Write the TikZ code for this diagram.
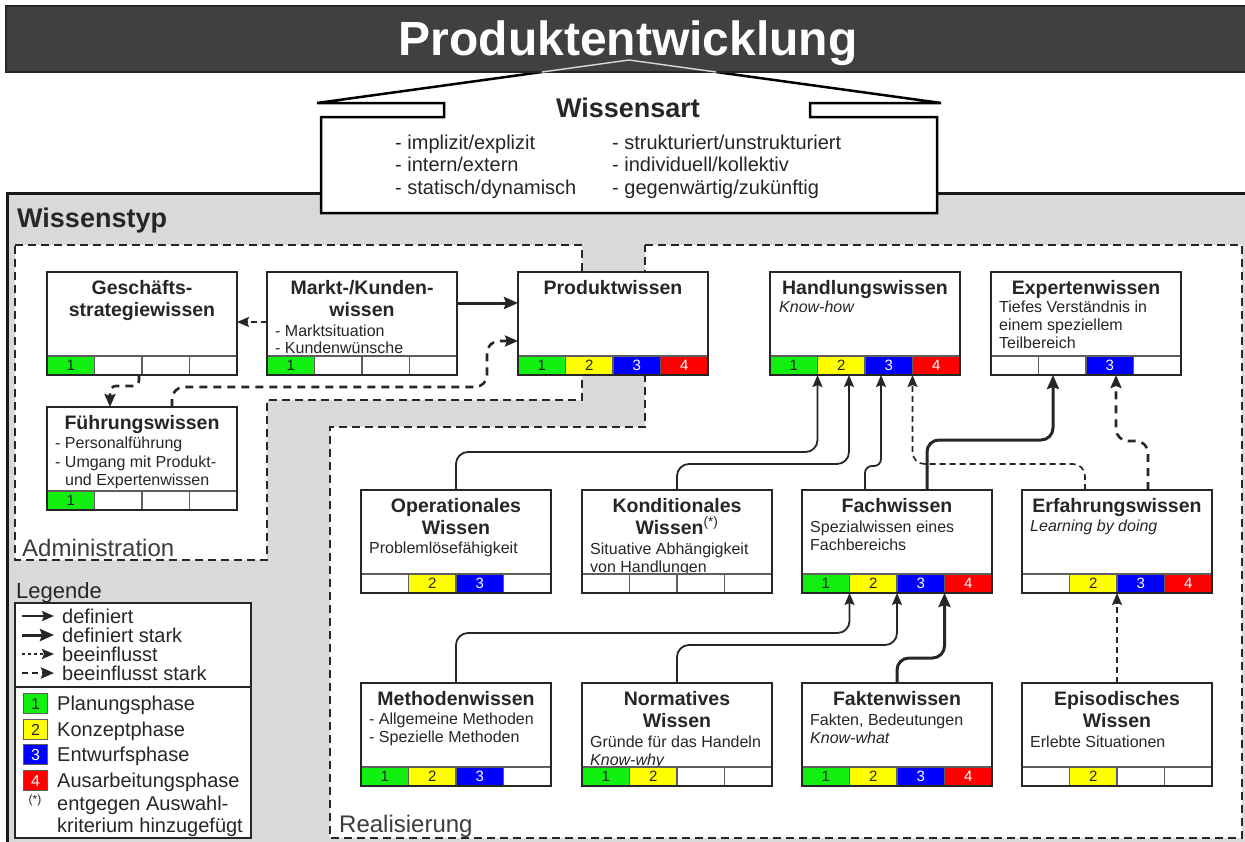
\documentclass[tikz,border=0pt]{standalone}
\usepackage{fontspec}
\setmainfont{Liberation Sans}
\usetikzlibrary{arrows.meta,calc}

\definecolor{ink}{HTML}{262626}
\definecolor{barfill}{HTML}{404040}
\definecolor{panel}{HTML}{D8DAD9}
\definecolor{cellline}{HTML}{5E5E5E}
\definecolor{phgreen}{HTML}{12F012}
\definecolor{phyellow}{HTML}{FFFF00}
\definecolor{phblue}{HTML}{0000FF}
\definecolor{phred}{HTML}{FF0000}

% phase strip below a knowledge box: four cells, 0 = empty
\newcommand\kstrip[5]{%
  \node[cellbox,ph#2] (#1-c1) at ($(#1.south west)+(0,0)$) {\ifnum#2>0 #2\fi};
  \node[cellbox,ph#3] (#1-c2) at ($(#1.south west)+(47.5,0)$) {\ifnum#3>0 #3\fi};
  \node[cellbox,ph#4] (#1-c3) at ($(#1.south west)+(95,0)$) {\ifnum#4>0 #4\fi};
  \node[cellbox,ph#5] (#1-c4) at ($(#1.south west)+(142.5,0)$) {\ifnum#5>0 #5\fi};
  \draw[frameline] (#1.south west) rectangle (#1.north east);
}

\begin{document}
\begin{tikzpicture}[x=1pt,y=-1pt,
  kframe/.style={draw=ink, line width=2.4pt, fill=white, minimum width=190pt,
    minimum height=103pt, inner sep=0pt, outer sep=0pt, anchor=north west},
  frameline/.style={draw=ink, line width=2.4pt},
  cellbox/.style={anchor=south west, minimum width=47.5pt, minimum height=19pt,
    inner sep=0pt, outer sep=0pt, draw=cellline, line width=1.1pt,
    font=\fontsize{15pt}{15pt}\selectfont},
  ph0/.style={fill=white},
  ph1/.style={fill=phgreen, text=ink},
  ph2/.style={fill=phyellow, text=ink},
  ph3/.style={fill=phblue, text=white},
  ph4/.style={fill=phred, text=white},
  ttl/.style={font=\fontsize{19.5pt}{22pt}\selectfont\bfseries, text=ink,
    inner sep=0pt, anchor=base},
  body/.style={font=\fontsize{16pt}{18pt}\selectfont, text=ink,
    inner sep=0pt, anchor=base west},
  bodyit/.style={body, font=\fontsize{16pt}{18pt}\selectfont\itshape},
  arttxt/.style={font=\fontsize{20pt}{22pt}\selectfont, text=ink,
    inner sep=0pt, anchor=base west},
  legtxt/.style={font=\fontsize{20pt}{22pt}\selectfont, text=ink,
    inner sep=0pt, anchor=base west},
  areatxt/.style={font=\fontsize{24pt}{26pt}\selectfont, text=ink!90,
    inner sep=0pt, anchor=base west},
  region/.style={fill=white, draw=ink, line width=2.4pt,
    dash pattern=on 8pt off 5pt},
  phsq/.style={anchor=north west, minimum width=24pt, minimum height=20pt,
    inner sep=0pt, draw=cellline, line width=1.1pt,
    font=\fontsize{16pt}{16pt}\selectfont},
  def/.style={draw=ink, line width=1.8pt,
    -{Stealth[length=12pt,width=10pt,inset=2pt]}},
  defs/.style={draw=ink, line width=3pt,
    -{Stealth[length=14pt,width=12pt,inset=2pt]}},
  infl/.style={draw=ink, line width=1.6pt, dash pattern=on 6pt off 4pt,
    -{Stealth[length=12pt,width=10pt,inset=2pt]}},
  infls/.style={draw=ink, line width=2.6pt, dash pattern=on 8pt off 6pt,
    -{Stealth[length=13pt,width=11pt,inset=2pt]}},
]
\useasboundingbox (0,0) rectangle (1245,841);

% grey panel "Wissenstyp"
\fill[panel] (7,193) rectangle (1250,850);
\draw[black!90, line width=3pt] (7,850) -- (7,193) -- (1250,193);
\node[font=\fontsize{27pt}{27pt}\selectfont\bfseries, text=ink, inner sep=0pt,
  anchor=base west] (typ) at (17,227) {Wissenstyp};

% areas Administration and Realisierung
\draw[region] (15,245) -- (582,245) -- (582,400) -- (267,400) -- (267,560)
  -- (15,560) -- cycle;
\draw[region] (645,245) -- (1242,245) -- (1242,838) -- (330,838) -- (330,427)
  -- (645,427) -- cycle;
\node[areatxt] (adm) at (22,556) {Administration};
\node[areatxt] (rea) at (339,832) {Realisierung};

% house shape "Wissensart"
\draw[fill=white, draw=black, line width=2.5pt] (629,60) -- (317,103) -- (444,103)
  -- (444,117) -- (321,117) -- (321,213) -- (937,213) -- (937,117) -- (810,117)
  -- (810,103) -- (941,103) -- cycle;

% title bar
\draw[fill=barfill, draw=black!85, line width=2pt] (6,6) rectangle (1252,72);
\draw[white!85!black, line width=1.4pt] (542,72) -- (629,60) -- (716,72);
\node[font=\fontsize{48pt}{48pt}\selectfont\bfseries, text=white, inner sep=0pt,
  anchor=base] (title) at (628,55) {Produktentwicklung};

\node[font=\fontsize{27pt}{27pt}\selectfont\bfseries, text=ink, inner sep=0pt,
  anchor=base] (art) at (628,117) {Wissensart};
\node[arttxt] (a1) at (395,149) {- implizit/explizit};
\node[arttxt] (a2) at (395,171) {- intern/extern};
\node[arttxt] (a3) at (395,194) {- statisch/dynamisch};
\node[arttxt] (a4) at (612,149) {- strukturiert/unstrukturiert};
\node[arttxt] (a5) at (612,171) {- individuell/kollektiv};
\node[arttxt] (a6) at (612,194) {- gegenwärtig/zukünftig};

% knowledge boxes
\node[kframe] (gs) at (47,272) {};
\node[ttl] (gs-t1) at ($(gs.north)+(0,22)$) {Geschäfts-};
\node[ttl] (gs-t2) at ($(gs.north)+(0,44)$) {strategiewissen};
\kstrip{gs}{1}{0}{0}{0}

\node[kframe] (mk) at (267,272) {};
\node[ttl] (mk-t1) at ($(mk.north)+(0,22)$) {Markt-/Kunden-};
\node[ttl] (mk-t2) at ($(mk.north)+(0,44)$) {wissen};
\node[body] (mk-b1) at ($(mk.north west)+(8,64)$) {- Marktsituation};
\node[body] (mk-b2) at ($(mk.north west)+(8,81)$) {- Kundenwünsche};
\kstrip{mk}{1}{0}{0}{0}

\node[kframe] (pw) at (518,272) {};
\node[ttl] (pw-t1) at ($(pw.north)+(0,22)$) {Produktwissen};
\kstrip{pw}{1}{2}{3}{4}

\node[kframe] (fw) at (47,407) {};
\node[ttl] (fw-t1) at ($(fw.north)+(0,22)$) {Führungswissen};
\node[body] (fw-b1) at ($(fw.north west)+(8,41)$) {- Personalführung};
\node[body] (fw-b2) at ($(fw.north west)+(8,60)$) {- Umgang mit Produkt-};
\node[body] (fw-b3) at ($(fw.north west)+(18,78)$) {und Expertenwissen};
\kstrip{fw}{1}{0}{0}{0}

\node[kframe] (hw) at (770,272) {};
\node[ttl] (hw-t1) at ($(hw.north)+(0,22)$) {Handlungswissen};
\node[bodyit] (hw-b1) at ($(hw.north west)+(9,40)$) {Know-how};
\kstrip{hw}{1}{2}{3}{4}

\node[kframe] (ew) at (991,272) {};
\node[ttl] (ew-t1) at ($(ew.north)+(0,22)$) {Expertenwissen};
\node[body] (ew-b1) at ($(ew.north west)+(8,40)$) {Tiefes Verständnis in};
\node[body] (ew-b2) at ($(ew.north west)+(8,58)$) {einem speziellem};
\node[body] (ew-b3) at ($(ew.north west)+(8,76)$) {Teilbereich};
\kstrip{ew}{0}{0}{3}{0}

\node[kframe] (op) at (361,490) {};
\node[ttl] (op-t1) at ($(op.north)+(0,22)$) {Operationales};
\node[ttl] (op-t2) at ($(op.north)+(0,44)$) {Wissen};
\node[body] (op-b1) at ($(op.north west)+(8,63)$) {Problemlösefähigkeit};
\kstrip{op}{0}{2}{3}{0}

\node[kframe] (kn) at (582,490) {};
\node[ttl] (kn-t1) at ($(kn.north)+(0,22)$) {Konditionales};
\node[ttl] (kn-t2) at ($(kn.north)+(0,44)$) {Wissen\textsuperscript{\mdseries(*)}};
\node[body] (kn-b1) at ($(kn.north west)+(8,64)$) {Situative Abhängigkeit};
\node[body] (kn-b2) at ($(kn.north west)+(8,82)$) {von Handlungen};
\kstrip{kn}{0}{0}{0}{0}

\node[kframe] (fa) at (802,490) {};
\node[ttl] (fa-t1) at ($(fa.north)+(0,22)$) {Fachwissen};
\node[body] (fa-b1) at ($(fa.north west)+(8,42)$) {Spezialwissen eines};
\node[body] (fa-b2) at ($(fa.north west)+(8,60)$) {Fachbereichs};
\kstrip{fa}{1}{2}{3}{4}

\node[kframe] (ef) at (1022,490) {};
\node[ttl] (ef-t1) at ($(ef.north)+(0,22)$) {Erfahrungswissen};
\node[bodyit] (ef-b1) at ($(ef.north west)+(8,41)$) {Learning by doing};
\kstrip{ef}{0}{2}{3}{4}

\node[kframe] (me) at (361,683) {};
\node[ttl] (me-t1) at ($(me.north)+(0,22)$) {Methodenwissen};
\node[body] (me-b1) at ($(me.north west)+(8,41)$) {- Allgemeine Methoden};
\node[body] (me-b2) at ($(me.north west)+(8,59)$) {- Spezielle Methoden};
\kstrip{me}{1}{2}{3}{0}

\node[kframe] (no) at (582,683) {};
\node[ttl] (no-t1) at ($(no.north)+(0,22)$) {Normatives};
\node[ttl] (no-t2) at ($(no.north)+(0,44)$) {Wissen};
\node[body] (no-b1) at ($(no.north west)+(8,64)$) {Gründe für das Handeln};
\node[bodyit] (no-b2) at ($(no.north west)+(8,82)$) {Know-why};
\kstrip{no}{1}{2}{0}{0}

\node[kframe] (fk) at (802,683) {};
\node[ttl] (fk-t1) at ($(fk.north)+(0,22)$) {Faktenwissen};
\node[body] (fk-b1) at ($(fk.north west)+(8,42)$) {Fakten, Bedeutungen};
\node[bodyit] (fk-b2) at ($(fk.north west)+(8,60)$) {Know-what};
\kstrip{fk}{1}{2}{3}{4}

\node[kframe] (ep) at (1022,683) {};
\node[ttl] (ep-t1) at ($(ep.north)+(0,22)$) {Episodisches};
\node[ttl] (ep-t2) at ($(ep.north)+(0,44)$) {Wissen};
\node[body] (ep-b1) at ($(ep.north west)+(8,64)$) {Erlebte Situationen};
\kstrip{ep}{0}{2}{0}{0}

% relations
\draw[defs] ($(mk.north east)+(0,31)$) -- ($(pw.north west)+(0,31)$);
\draw[infl] ($(mk.north west)+(0,50)$) -- ($(gs.north east)+(0,50)$);
\draw[infls, rounded corners=6pt] ($(gs.south west)+(92,0)$) -- ++(0,11)
  -| ($(fw.north west)+(63,0)$);
\draw[infls, rounded corners=12pt] ($(fw.north west)+(125,0)$)
  |- ($(pw.north west)+(-31,115)$) |- ($(pw.north west)+(0,69)$);

\draw[def, rounded corners=12pt] (op.north) |- ($(hw-c1.south east)+(0,77)$)
  -- (hw-c1.south east);
\draw[def, rounded corners=12pt] (kn.north) |- ($(hw.south west)+(79,89)$)
  -- ($(hw.south west)+(79,0)$);
\draw[def, rounded corners=7pt] ($(fa.north west)+(63,0)$) -- ++(0,-24)
  -| ($(hw.south west)+(111,0)$);
\draw[infl, rounded corners=12pt] ($(ef.north west)+(63,0)$) -- ++(0,-26)
  -| (hw-c3.south east);
\draw[defs, rounded corners=12pt] ($(fa.north west)+(125,0)$) -- ++(0,-50)
  -| ($(ew.south west)+(62,0)$);
\draw[infls, rounded corners=12pt] ($(ef.north west)+(126,0)$) -- ++(0,-49)
  -| ($(ew.south west)+(125,0)$);

\draw[def, rounded corners=12pt] (me.north) |- ($(fa-c1.south east)+(0,40)$)
  -- (fa-c1.south east);
\draw[def, rounded corners=12pt] (no.north) |- ($(fa-c2.south east)+(0,52)$)
  -- (fa-c2.south east);
\draw[defs, rounded corners=12pt] ($(fk.north west)+(95,0)$) -- ++(0,-25)
  -| (fa-c3.south east);
\draw[infl] ($(ep.north west)+(95,0)$) -- (ef-c2.south east);

% legend
\node[font=\fontsize{22pt}{22pt}\selectfont, text=ink, inner sep=0pt,
  anchor=base west] (legt) at (16,598) {Legende};
\node[draw=ink, fill=white, line width=1.8pt, minimum width=236pt,
  minimum height=235pt, inner sep=0pt, outer sep=0pt, anchor=north west]
  (leg) at (15,603) {};
\draw[ink, line width=1.8pt] ($(leg.north west)+(0,84)$) -- ($(leg.north east)+(0,84)$);

\coordinate (la1) at (22,616); \coordinate (lb1) at (54,616);
\coordinate (la2) at (22,635); \coordinate (lb2) at (54,635);
\coordinate (la3) at (22,654); \coordinate (lb3) at (54,654);
\coordinate (la4) at (22,673); \coordinate (lb4) at (54,673);
\draw[def] (la1) -- (lb1);
\draw[defs] (la2) -- (lb2);
\draw[infl, dash pattern=on 3pt off 3pt] (la3) -- (lb3);
\draw[infls, dash pattern=on 6pt off 4pt] (la4) -- (lb4);
\node[legtxt] (lt1) at (62,623) {definiert};
\node[legtxt] (lt2) at (62,642) {definiert stark};
\node[legtxt] (lt3) at (62,661) {beeinflusst};
\node[legtxt] (lt4) at (62,680) {beeinflusst stark};

\node[phsq, ph1] (lq1) at (23,693) {1};
\node[phsq, ph2] (lq2) at (23,719) {2};
\node[phsq, ph3] (lq3) at (23,744) {3};
\node[phsq, ph4] (lq4) at (23,770) {4};
\node[legtxt] (lp1) at (57,710) {Planungsphase};
\node[legtxt] (lp2) at (57,736) {Konzeptphase};
\node[legtxt] (lp3) at (57,761) {Entwurfsphase};
\node[legtxt] (lp4) at (57,787) {Ausarbeitungsphase};
\node[font=\fontsize{12pt}{12pt}\selectfont, text=ink, inner sep=0pt]
  (lstar) at (35,800) {(*)};
\node[legtxt] (ln1) at (57,810) {entgegen Auswahl-};
\node[legtxt] (ln2) at (57,832) {kriterium hinzugefügt};
\end{tikzpicture}
\end{document}
